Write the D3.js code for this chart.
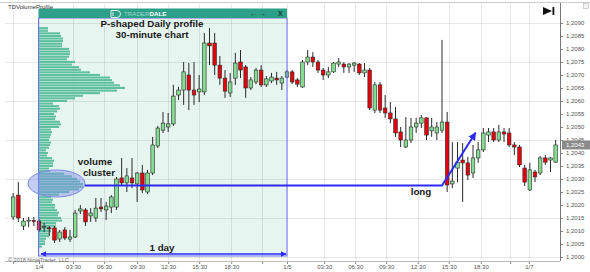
<!DOCTYPE html>
<html>
<head>
<meta charset="utf-8">
<script src="https://cdn.jsdelivr.net/npm/d3@7/dist/d3.min.js"></script>
<style>
  html, body { margin: 0; padding: 0; background: #fff; }
  svg { display: block; font-family: "Liberation Sans", Arial, sans-serif; }
  .bold { font-weight: bold; fill: #1a1a1a; font-size: 9.8px; }
  .axis text { fill: #555; font-size: 6px; }
  .axis line { stroke: #888; }
</style>
</head>
<body>
<svg id="chart" width="590" height="272"></svg>
<script>
  // 30 minute bars, bar 0 = 1/4 00:00
  var firstBar = -5;
  var opens = [1.20154,1.20238,1.20119,1.20138,1.20140,1.20138,1.20115,1.20112,1.20112,1.20069,1.20104,1.20069,1.20077,
    1.20177,1.20181,1.20158,1.20150,1.20192,1.20181,1.20192,1.20192,1.20304,1.20285,1.20304,1.20281,1.20323,1.20250,1.20323,
    1.20427,1.20488,1.20500,1.20512,1.20623,1.20642,1.20700,1.20642,1.20635,1.20635,1.20823,1.20823,1.20738,1.20688,1.20631,
    1.20688,1.20750,1.20731,1.20650,1.20673,1.20719,1.20662,1.20677,1.20688,1.20669,1.20692,1.20712,1.20681,1.20654,1.20750,
    1.20769,1.20750,1.20719,1.20700,1.20712,1.20742,1.20742,1.20731,1.20738,1.20742,1.20708,1.20719,1.20565,1.20662,1.20573,
    1.20554,1.20531,1.20481,1.20423,1.20450,1.20500,1.20515,1.20535,1.20485,1.20477,1.20488,1.20519,1.20281,1.20342,1.20373,
    1.20362,1.20323,1.20381,1.20412,1.20469,1.20481,1.20450,1.20481,1.20477,1.20431,1.20423,1.20342,1.20258,1.20327,1.20323,
    1.20381,1.20373,1.20365];
  var highs = [1.20246,1.20288,1.20150,1.20154,1.20154,1.20146,1.20131,1.20119,1.20119,1.20104,1.20115,1.20104,1.20181,
    1.20200,1.20188,1.20188,1.20227,1.20227,1.20212,1.20238,1.20308,1.20381,1.20342,1.20381,1.20327,1.20354,1.20335,1.20462,
    1.20504,1.20558,1.20554,1.20662,1.20654,1.20750,1.20746,1.20750,1.20700,1.20862,1.20881,1.20862,1.20773,1.20719,1.20708,
    1.20785,1.20796,1.20738,1.20692,1.20727,1.20738,1.20696,1.20708,1.20712,1.20696,1.20719,1.20719,1.20688,1.20758,1.20796,
    1.20788,1.20758,1.20727,1.20731,1.20750,1.20765,1.20750,1.20746,1.20750,1.20746,1.20746,1.20727,1.20673,1.20673,1.20623,
    1.20596,1.20577,1.20500,1.20538,1.20535,1.20535,1.20546,1.20538,1.20535,1.20519,1.20835,1.20558,1.20442,1.20442,1.20438,
    1.20385,1.20431,1.20442,1.20496,1.20496,1.20496,1.20508,1.20496,1.20496,1.20442,1.20431,1.20354,1.20362,1.20335,1.20388,
    1.20392,1.20385,1.20450];
  var lows = [1.20142,1.20135,1.20104,1.20115,1.20119,1.20096,1.20096,1.20081,1.20054,1.20058,1.20065,1.20058,1.20073,
    1.20165,1.20119,1.20135,1.20135,1.20173,1.20142,1.20169,1.20181,1.20273,1.20250,1.20265,1.20212,1.20246,1.20242,1.20315,
    1.20419,1.20477,1.20481,1.20504,1.20604,1.20585,1.20565,1.20585,1.20596,1.20623,1.20738,1.20700,1.20662,1.20612,1.20615,
    1.20662,1.20688,1.20612,1.20642,1.20665,1.20654,1.20654,1.20669,1.20662,1.20642,1.20688,1.20665,1.20654,1.20650,1.20738,
    1.20731,1.20708,1.20681,1.20688,1.20708,1.20731,1.20708,1.20708,1.20712,1.20700,1.20692,1.20565,1.20554,1.20554,1.20535,
    1.20515,1.20462,1.20423,1.20419,1.20438,1.20477,1.20496,1.20450,1.20462,1.20450,1.20477,1.20250,1.20265,1.20288,1.20212,
    1.20296,1.20304,1.20362,1.20404,1.20442,1.20442,1.20442,1.20442,1.20423,1.20392,1.20346,1.20273,1.20254,1.20288,1.20315,
    1.20354,1.20327,1.20362];
  var closes = [1.20231,1.20150,1.20138,1.20142,1.20136,1.20104,1.20117,1.20110,1.20065,1.20096,1.20073,1.20077,1.20169,
    1.20185,1.20135,1.20169,1.20188,1.20185,1.20196,1.20231,1.20300,1.20285,1.20312,1.20285,1.20323,1.20258,1.20323,1.20431,
    1.20496,1.20515,1.20512,1.20619,1.20642,1.20712,1.20642,1.20623,1.20646,1.20823,1.20812,1.20738,1.20688,1.20638,1.20673,
    1.20746,1.20719,1.20650,1.20681,1.20719,1.20662,1.20685,1.20692,1.20681,1.20688,1.20712,1.20673,1.20665,1.20750,1.20769,
    1.20750,1.20719,1.20700,1.20712,1.20746,1.20750,1.20731,1.20742,1.20746,1.20708,1.20719,1.20573,1.20662,1.20565,1.20554,
    1.20531,1.20477,1.20450,1.20450,1.20500,1.20515,1.20535,1.20469,1.20500,1.20500,1.20519,1.20277,1.20292,1.20365,1.20362,
    1.20315,1.20381,1.20412,1.20477,1.20481,1.20450,1.20481,1.20473,1.20431,1.20423,1.20354,1.20288,1.20335,1.20308,1.20381,
    1.20365,1.20381,1.20431];

  // volume profile of 1/4, one row per pip starting at 1.2004
  var profileLow = 1.2004;
  var profileStep = 0.0001;
  var profileVolume = [3,6,6,7,10,11,12,11,17,17,23,22,19,20,18,16,16,13,14,12,20,30,40,44,44,41,38,33,25,11,10,14,14,15,
    13,8,9,7,10,11,12,10,11,12,13,12,20,22,21,16,17,15,18,21,20,14,28,36,44,61,78,86,81,75,73,71,61,51,42,40,33,36,28,30,31,
    31,30,23,23,24,24,22,21,9,9];

  var priceTicks = [1.2000,1.2005,1.2010,1.2015,1.2020,1.2025,1.2030,1.2035,1.2040,1.2045,1.2050,1.2055,1.2060,1.2065,
    1.2070,1.2075,1.2080,1.2085,1.2090];
  var priceGrid = [1.2000,1.2015,1.2030,1.2045,1.2060,1.2075,1.2090];
  var timeTicks = [-5, 0, 6.6, 12.6, 19, 25, 31, 37.2, 43.2, 48, 55.2, 61.2, 67.2, 73.3, 79.3, 85.5, 91.2, 94.8];
  var timeLabels = ['', '1/4', '03:30', '06:30', '09:30', '12:30', '15:30', '18:30', '', '1/5', '03:30', '06:30', '09:30',
    '12:30', '15:30', '18:30', '', '1/7'];

  var clusterPrice = 1.20275;
  var lastPrice = closes[closes.length - 1];

  var svg = d3.select('#chart');
  var x = d3.scaleLinear().domain([0, 48]).range([39, 287]);
  var y = d3.scaleLinear().domain([1.2000, 1.2090]).range([257, 23]);
  var vol = d3.scaleLinear().domain([0, 86]).range([0, 86]);
  var axisX = 560, axisY = 261;

  var bars = opens.map(function(o, i) {
    return {i: firstBar + i, o: o, h: highs[i], l: lows[i], c: closes[i]};
  });

  // frame
  svg.append('line').attr('x1', 0).attr('x2', 590).attr('y1', 2.5).attr('y2', 2.5).attr('stroke', '#ccc');

  // daily profile box fill
  var boxL = x(0) - 0.5, boxR = x(48), boxTop = 18, boxBot = 256;
  svg.append('rect').attr('x', boxL).attr('y', boxTop).attr('width', boxR - boxL).attr('height', boxBot - boxTop)
    .attr('fill', '#e7f5f1');

  // grid
  svg.append('g').selectAll('line').data(priceGrid).enter().append('line')
    .attr('x1', 5).attr('x2', axisX).attr('y1', function(d) { return Math.round(y(d)) + 0.5; })
    .attr('y2', function(d) { return Math.round(y(d)) + 0.5; })
    .attr('stroke', 'rgba(0,0,0,0.09)');
  svg.append('g').selectAll('line').data(timeTicks).enter().append('line')
    .attr('x1', function(d) { return Math.round(x(d)) + 0.5; }).attr('x2', function(d) { return Math.round(x(d)) + 0.5; })
    .attr('y1', 4).attr('y2', axisY)
    .attr('stroke', 'rgba(0,0,0,0.09)');

  // volume profile
  svg.append('g').selectAll('rect').data(profileVolume).enter().append('rect')
    .attr('x', x(0))
    .attr('y', function(d, k) { return y(profileLow + k * profileStep) - 1.1; })
    .attr('width', function(d) { return vol(d); })
    .attr('height', 2.1)
    .attr('fill', '#5fc09f');

  // candles
  var bw = 3.6;
  var candle = svg.append('g').selectAll('g').data(bars).enter().append('g');
  candle.append('line')
    .attr('x1', function(d) { return x(d.i); }).attr('x2', function(d) { return x(d.i); })
    .attr('y1', function(d) { return y(d.h); }).attr('y2', function(d) { return y(d.l); })
    .attr('stroke', '#2a2a2a').attr('stroke-width', 1);
  candle.append('rect')
    .attr('x', function(d) { return x(d.i) - bw / 2; })
    .attr('y', function(d) { return y(Math.max(d.o, d.c)); })
    .attr('width', bw)
    .attr('height', function(d) { return Math.max(1, Math.abs(y(d.o) - y(d.c))); })
    .attr('fill', function(d) { return d.c >= d.o ? '#84dc92' : '#e5000c'; })
    .attr('stroke', '#2a2a2a').attr('stroke-width', 0.6);

  // box border + header
  svg.append('rect').attr('x', boxL).attr('y', boxTop).attr('width', boxR - boxL).attr('height', boxBot - boxTop)
    .attr('fill', 'none').attr('stroke', '#6f6ff5').attr('stroke-width', 1);
  svg.append('rect').attr('x', boxL).attr('y', 8.5).attr('width', boxR - boxL).attr('height', 9.5).attr('fill', '#2e9f88');
  svg.append('path').attr('d', 'M111,10.5 h6 a3.5,3.5 0 0 1 0,7 h-6 z M113,12 v4')
    .attr('fill', 'none').attr('stroke', '#dff2ec').attr('stroke-width', 1);
  var logo = svg.append('text').attr('x', 124).attr('y', 16).attr('font-size', 6.2);
  logo.append('tspan').attr('fill', '#9ad8c9').text('TRADER');
  logo.append('tspan').attr('fill', '#fff').attr('font-weight', 'bold').text('DALE');
  svg.append('text').attr('x', 250).attr('y', 16).attr('font-size', 7).attr('fill', '#1d3d36').text('\u2190 \u2192');
  svg.append('text').attr('x', 278).attr('y', 16).attr('font-size', 7).attr('font-weight', 'bold')
    .attr('fill', '#1d3d36').text('X');

  // axes
  var ya = svg.append('g').attr('class', 'axis').attr('transform', 'translate(' + axisX + ',0)')
    .call(d3.axisRight(y).tickValues(priceTicks).tickSize(3).tickPadding(3)
      .tickFormat(function(d) { return d.toFixed(4).replace('.', ','); }));
  ya.select('.domain').remove();
  svg.append('line').attr('x1', axisX + 0.5).attr('x2', axisX + 0.5).attr('y1', 3).attr('y2', axisY)
    .attr('stroke', '#777');
  var xa = svg.append('g').attr('class', 'axis').attr('transform', 'translate(0,' + axisY + ')')
    .call(d3.axisBottom(x).tickValues(timeTicks).tickSize(3).tickPadding(1)
      .tickFormat(function(d, i) { return timeLabels[i]; }));
  xa.select('.domain').remove();
  svg.append('line').attr('x1', 5).attr('x2', axisX).attr('y1', axisY + 0.5).attr('y2', axisY + 0.5)
    .attr('stroke', '#bbb');

  // last price tag
  svg.append('rect').attr('x', axisX + 2).attr('y', y(lastPrice) - 4.5).attr('width', 28).attr('height', 9)
    .attr('fill', '#8a8a8a');
  svg.append('text').attr('x', axisX + 6).attr('y', y(lastPrice) + 2.2).attr('font-size', 6).attr('fill', '#fff')
    .text(lastPrice.toFixed(4).replace('.', ','));

  // top texts
  svg.append('text').attr('x', 8).attr('y', 9).attr('font-size', 6).attr('fill', '#333').text('TDVolumeProfile');
  svg.append('text').attr('x', 8).attr('y', 262).attr('font-size', 5.5).attr('fill', '#666')
    .text('\u00a9 2018 NinjaTrader, LLC');
  svg.append('path').attr('d', 'M543,7 L552,11 L543,15 Z').attr('fill', '#111');
  svg.append('rect').attr('x', 552.5).attr('y', 7).attr('width', 1.8).attr('height', 8).attr('fill', '#111');
  svg.append('rect').attr('x', 583.5).attr('y', 3.5).attr('width', 5).attr('height', 5)
    .attr('fill', '#f4f4f4').attr('stroke', '#aaa').attr('stroke-width', 0.5);

  svg.append('text').attr('class', 'bold').attr('text-anchor', 'middle').attr('x', 152).attr('y', 26.5)
    .text('P-shaped Daily profile');
  svg.append('text').attr('class', 'bold').attr('text-anchor', 'middle').attr('x', 152).attr('y', 37.5)
    .text('30-minute chart');

  // annotations
  var blue = '#2b2bf5';
  var defs = svg.append('defs');
  defs.append('marker').attr('id', 'head').attr('viewBox', '0 0 10 10').attr('refX', 9).attr('refY', 5)
    .attr('markerWidth', 4).attr('markerHeight', 4).attr('orient', 'auto-start-reverse')
    .append('path').attr('d', 'M0,0 L10,5 L0,10 z').attr('fill', blue);

  var cy = y(clusterPrice);
  svg.append('ellipse').attr('cx', 56.5).attr('cy', cy - 2).attr('rx', 28.5).attr('ry', 13.5)
    .attr('fill', 'rgba(125,140,235,0.45)').attr('stroke', '#7b8be6').attr('stroke-width', 1);
  svg.append('polyline')
    .attr('points', [[85, cy], [x(78), cy], [x(84.5), y(1.20478)]].join(' '))
    .attr('fill', 'none').attr('stroke', blue).attr('stroke-width', 2).attr('marker-end', 'url(#head)');
  svg.append('line').attr('x1', x(0) + 2).attr('x2', x(48) - 1).attr('y1', 254).attr('y2', 254)
    .attr('stroke', blue).attr('stroke-width', 1.5)
    .attr('marker-start', 'url(#head)').attr('marker-end', 'url(#head)');

  svg.append('text').attr('class', 'bold').attr('text-anchor', 'middle').attr('x', 95).attr('y', 164.5).text('volume');
  svg.append('text').attr('class', 'bold').attr('text-anchor', 'middle').attr('x', 99).attr('y', 176).text('cluster');
  svg.append('text').attr('class', 'bold').attr('text-anchor', 'middle').attr('x', 421).attr('y', 195).text('long');
  svg.append('text').attr('class', 'bold').attr('text-anchor', 'middle').attr('x', 162).attr('y', 251).text('1 day');
</script>
</body>
</html>
